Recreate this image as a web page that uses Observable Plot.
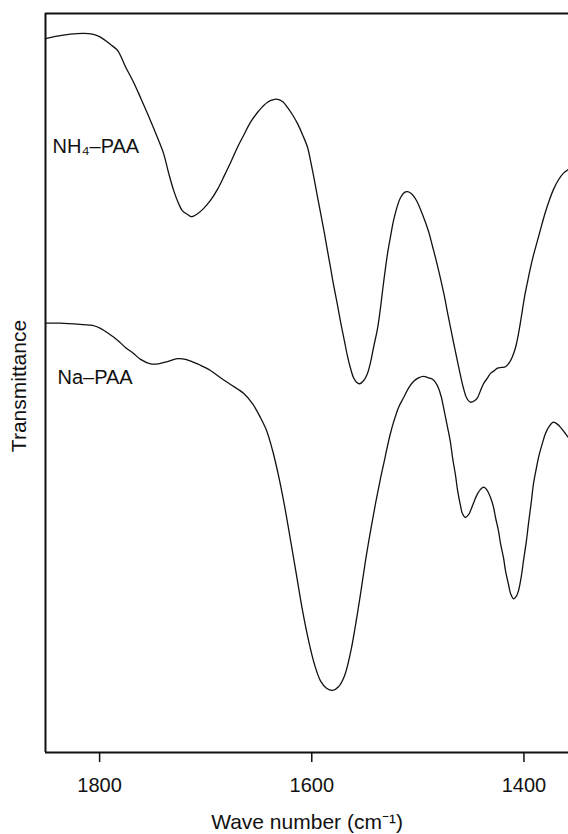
<!DOCTYPE html>
<html>
<head>
<meta charset="utf-8">
<script src="https://cdn.jsdelivr.net/npm/d3@7"></script>
<script src="https://cdn.jsdelivr.net/npm/@observablehq/plot@0.6"></script>
<style>
  html, body { margin: 0; padding: 0; background: #fff; }
  #chart svg { display: block; }
</style>
</head>
<body>
<div id="chart"></div>
<script>
// Wave numbers (cm^-1) and transmittance (arbitrary units, 0-100 across the frame)
const nh4Wave = [1851,1841.6,1827.4,1815.2,1806.7,1799.2,1789.7,1783.1,1775.6,1768.0,1761.4,1752.0,1745.4,1739.8,1735.1,1730.3,1725.6,1721.9,1717.1,1713.4,1707.7,1702.1,1695.5,1688.9,1682.3,1676.6,1670.0,1664.3,1657.7,1651.2,1646.4,1641.7,1637.0,1633.2,1627.6,1622.9,1618.2,1613.4,1608.7,1604.0,1601.2,1598.4,1594.6,1591.8,1588.0,1585.2,1582.3,1579.5,1575.7,1572.9,1569.1,1566.3,1563.5,1560.6,1557.8,1555.0,1551.2,1547.5,1544.6,1541.8,1538.0,1535.2,1532.4,1528.6,1525.8,1522.9,1519.2,1516.3,1512.6,1509.7,1506.0,1501.3,1495.6,1489.9,1486.2,1482.4,1478.6,1474.9,1472.0,1469.2,1466.4,1462.6,1459.8,1457.0,1454.1,1450.4,1446.6,1443.8,1440.9,1438.1,1434.3,1431.5,1427.7,1424.9,1421.1,1417.4,1413.6,1410.8,1407.9,1405.1,1402.3,1399.5,1396.6,1393.8,1391.0,1387.2,1383.4,1379.6,1375.9,1372.1,1367.4,1362.7,1358.0];
const nh4Trans = [96.6,96.9,97.2,97.3,97.2,96.8,95.8,95.0,92.8,90.7,88.6,85.5,83.2,81.1,78.5,76.1,74.3,73.3,72.8,72.5,72.9,73.6,74.7,76.2,78.1,79.8,81.9,83.5,85.3,86.6,87.4,88.0,88.3,88.4,88.1,87.3,86.3,85.1,83.6,81.9,80.1,78.1,75.2,73.1,70.2,67.9,65.6,63.3,60.5,58.3,55.6,53.6,52.0,50.7,50.1,49.9,50.3,51.3,52.8,54.8,57.4,60.2,63.5,67.5,69.8,72.0,74.0,75.1,75.8,75.9,75.6,74.7,72.8,70.5,68.5,66.4,64.1,61.7,59.5,57.5,55.5,52.9,51.0,49.3,48.0,47.4,47.6,48.0,49.0,49.9,50.7,51.3,51.7,52.0,52.1,52.2,52.8,53.6,54.8,56.7,59.1,61.6,63.7,65.6,67.3,69.3,71.3,73.2,74.8,76.2,77.5,78.4,78.9];

const naWave = [1851,1836.9,1815.2,1806.7,1799.2,1791.6,1783.1,1775.6,1768.0,1761.4,1752.0,1744.5,1736.0,1726.6,1719.0,1711.5,1704.9,1695.5,1686.0,1676.6,1664.3,1655.9,1648.3,1642.7,1637.0,1631.4,1625.7,1620.0,1614.4,1608.7,1603.1,1597.4,1591.8,1586.1,1580.4,1574.8,1569.1,1563.5,1558.8,1554.0,1549.3,1544.6,1539.9,1535.2,1531.4,1528.6,1525.8,1522.9,1518.2,1513.5,1508.8,1504.1,1499.4,1494.7,1489.9,1486.2,1483.4,1480.5,1477.7,1475.8,1472.0,1469.2,1467.3,1464.5,1462.6,1459.8,1457.9,1455.1,1452.2,1450.4,1446.6,1443.8,1440.9,1438.1,1435.3,1431.5,1428.7,1426.8,1424.0,1422.1,1419.2,1417.4,1414.5,1412.6,1409.8,1407.0,1405.1,1402.3,1400.4,1397.6,1395.7,1392.9,1391.0,1388.1,1386.3,1382.5,1379.6,1375.9,1372.1,1368.3,1365.5,1361.7,1358.0];
const naTrans = [58.1,58.1,57.9,57.8,57.4,56.7,55.8,54.8,54.0,53.2,52.6,52.6,52.9,53.3,53.2,52.8,52.4,51.7,50.7,49.8,48.6,47.2,45.3,43.6,40.9,37.5,33.4,28.7,24.0,19.2,15.2,11.9,9.7,8.7,8.4,8.9,10.4,13.5,17.2,21.5,26.0,30.0,33.7,37.1,39.6,41.5,43.2,44.7,46.7,48.0,49.3,50.2,50.7,50.9,50.7,50.5,50.1,49.3,48.0,46.7,44.0,41.9,39.9,37.5,35.5,33.4,32.3,31.8,32.2,32.7,34.1,35.0,35.6,35.9,35.6,34.5,33.2,31.8,30.0,28.3,26.3,24.6,22.7,21.5,20.8,21.2,21.9,24.0,26.0,28.7,31.0,34.1,36.4,38.6,39.9,41.9,43.2,44.2,44.7,44.4,44.0,43.3,42.6];

const seriesNames = ["NH\u2084\u2013PAA", "Na\u2013PAA"];
const labelWave = [1844.4, 1839.7];
const labelTrans = [81.1, 49.9];

const xTicks = [1800, 1600, 1400];
const xDomain = [1851, 1358];
const yDomain = [0, 100];
const xTitle = "Wave number (cm\u207B\u00B9)";
const yTitle = "Transmittance";

const nh4 = nh4Wave.map((w, i) => ({wave: w, t: nh4Trans[i], series: seriesNames[0]}));
const na = naWave.map((w, i) => ({wave: w, t: naTrans[i], series: seriesNames[1]}));
const labels = seriesNames.map((s, i) => ({name: s, wave: labelWave[i], t: labelTrans[i]}));

const font = "'Liberation Sans', Arial, Helvetica, sans-serif";
const ink = "#111";

const chart = Plot.plot({
  width: 568,
  height: 834,
  marginLeft: 45,
  marginRight: 0,
  marginTop: 13,
  marginBottom: 82,
  style: {fontFamily: font, color: ink, background: "#fff", overflow: "visible"},
  x: {domain: xDomain, axis: null},
  y: {domain: yDomain, axis: null},
  marks: [
    Plot.axisX({ticks: xTicks, tickFormat: d => String(d), tickSize: 10, tickPadding: 15, fontSize: 20, strokeWidth: 1.5, label: null, stroke: ink, fill: ink}),
    Plot.ruleY([yDomain[0]], {stroke: ink, strokeWidth: 2}),
    Plot.ruleY([yDomain[1]], {stroke: ink, strokeWidth: 2}),
    Plot.ruleX([xDomain[0]], {stroke: ink, strokeWidth: 2}),
    Plot.line(nh4, {x: "wave", y: "t", stroke: ink, strokeWidth: 1.3, curve: "catmull-rom"}),
    Plot.line(na, {x: "wave", y: "t", stroke: ink, strokeWidth: 1.3, curve: "catmull-rom"}),
    Plot.text(labels, {x: "wave", y: "t", text: "name", textAnchor: "start", lineAnchor: "bottom", fontSize: 20, fill: ink}),
    Plot.text([xTitle], {text: d => d, frameAnchor: "bottom", textAnchor: "middle", dy: 76, lineAnchor: "bottom", fontSize: 21, fill: ink}),
    Plot.text([yTitle], {text: d => d, frameAnchor: "left", textAnchor: "middle", dx: -20, dy: 3, rotate: -90, lineAnchor: "bottom", fontSize: 21, fill: ink})
  ]
});
document.getElementById("chart").appendChild(chart);
</script>
</body>
</html>
